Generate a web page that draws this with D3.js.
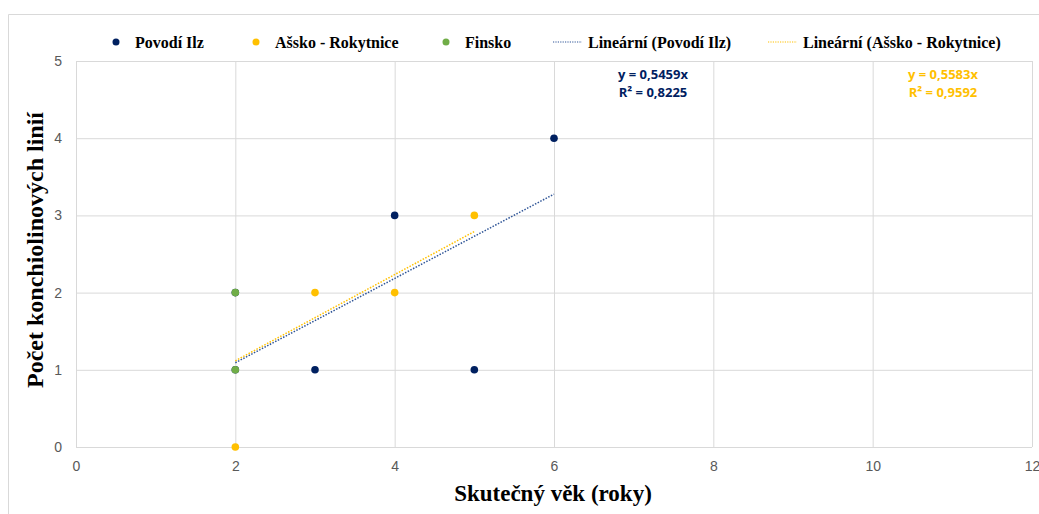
<!DOCTYPE html>
<html>
<head>
<meta charset="UTF-8">
<style>
  body { margin: 0; background: #fff; }
  .tick text { font: 14px "Liberation Sans Narrow", "Liberation Sans", sans-serif; fill: #595959; }
  .legend text { font: bold 16px "Liberation Serif", serif; fill: #000; }
  .title { font: bold 23px "Liberation Serif", serif; fill: #000; }
  .eq { font: bold 13px "Open Sans", "Liberation Sans", sans-serif; }
</style>
</head>
<body>
<svg id="chart" width="1039" height="514"></svg>
<script src="https://d3js.org/d3.v7.min.js"></script>
<script>
// series data
var ilzX = [2, 2, 3, 4, 5, 6];
var ilzY = [1, 2, 1, 3, 1, 4];
var askoX = [2, 3, 4, 5];
var askoY = [0, 2, 2, 3];
var finX = [2, 2];
var finY = [1, 2];

var seriesNames = ["Povodí Ilz", "Ašsko - Rokytnice", "Finsko"];
var seriesColors = ["#002060", "#FFC000", "#70AD47"];
var trendNames = ["Lineární (Povodí Ilz)", "Lineární (Ašsko - Rokytnice)"];
var trendSlopes = [0.5459, 0.5583];
var trendR2 = ["0,8225", "0,9592"];

var xTicks = [0, 2, 4, 6, 8, 10, 12];
var yTicks = [0, 1, 2, 3, 4, 5];

var svg = d3.select("#chart");
var margin = { left: 76, right: 7, top: 61, bottom: 67 };
var W = 1039, H = 514;

// outer chart frame (only left/top visible in the crop)
svg.append("path")
  .attr("d", "M8.5,514 V14.5 H1039")
  .attr("fill", "none").attr("stroke", "#d9d9d9");

var x = d3.scaleLinear().domain([0, 12]).range([margin.left, W - margin.right]);
var y = d3.scaleLinear().domain([0, 5]).range([H - margin.bottom, margin.top]);

// gridlines
svg.append("g").selectAll("line").data(xTicks).enter().append("line")
  .attr("x1", d => x(d) + 0.5).attr("x2", d => x(d) + 0.5)
  .attr("y1", y(0)).attr("y2", y(5))
  .attr("stroke", "#d9d9d9").attr("stroke-width", 1);
svg.append("g").selectAll("line").data(yTicks).enter().append("line")
  .attr("x1", x(0)).attr("x2", x(12))
  .attr("y1", d => y(d) + 0.5).attr("y2", d => y(d) + 0.5)
  .attr("stroke", "#d9d9d9").attr("stroke-width", 1);

// axes (labels only)
var xAxis = svg.append("g").attr("transform", "translate(0," + y(0) + ")")
  .call(d3.axisBottom(x).tickValues(xTicks).tickFormat(d3.format("d")).tickSize(0).tickPadding(14));
var yAxis = svg.append("g").attr("transform", "translate(" + x(0) + ",0)")
  .call(d3.axisLeft(y).tickValues(yTicks).tickFormat(d3.format("d")).tickSize(0).tickPadding(14));
xAxis.select(".domain").remove();
yAxis.select(".domain").remove();

// trendlines
var trendX = [d3.extent(ilzX), d3.extent(askoX)];
trendSlopes.forEach(function (m, i) {
  svg.append("line")
    .attr("x1", x(trendX[i][0])).attr("y1", y(m * trendX[i][0]))
    .attr("x2", x(trendX[i][1])).attr("y2", y(m * trendX[i][1]))
    .attr("stroke", i == 0 ? "#2f5597" : "#FFC000")
    .attr("stroke-width", 1.5)
    .attr("stroke-dasharray", "1.5,1.5");
});

// points
var series = [[ilzX, ilzY], [askoX, askoY], [finX, finY]];
series.forEach(function (s, i) {
  svg.append("g").selectAll("circle").data(s[0]).enter().append("circle")
    .attr("cx", d => x(d))
    .attr("cy", (d, j) => y(s[1][j]))
    .attr("r", 3.8)
    .attr("fill", seriesColors[i]);
});

// equations
var eqPos = [[653, 79], [943, 79]];
trendSlopes.forEach(function (m, i) {
  var t = svg.append("text").attr("class", "eq")
    .attr("text-anchor", "middle")
    .attr("fill", i == 0 ? "#002060" : "#FFC000");
  t.append("tspan").attr("x", eqPos[i][0]).attr("y", eqPos[i][1])
    .text("y = " + String(m).replace(".", ",") + "x");
  t.append("tspan").attr("x", eqPos[i][0]).attr("y", eqPos[i][1] + 18)
    .text("R² = " + trendR2[i]);
});

// legend
var legend = svg.append("g").attr("class", "legend");
var legX = [116, 256, 446];
seriesNames.forEach(function (n, i) {
  legend.append("circle").attr("cx", legX[i]).attr("cy", 42).attr("r", 3.5)
    .attr("fill", seriesColors[i]);
  legend.append("text").attr("x", legX[i] + 19).attr("y", 48).text(n);
});
var lineLegX = [553, 768];
trendNames.forEach(function (n, i) {
  legend.append("line")
    .attr("x1", lineLegX[i]).attr("x2", lineLegX[i] + 29)
    .attr("y1", 42).attr("y2", 42)
    .attr("stroke", i == 0 ? "#2f5597" : "#FFC000")
    .attr("stroke-width", 1.2).attr("stroke-dasharray", "1.2,1.2");
  legend.append("text").attr("x", lineLegX[i] + 35).attr("y", 48).text(n);
});

// axis titles
svg.append("text").attr("class", "title")
  .attr("x", 553).attr("y", 501).attr("text-anchor", "middle")
  .text("Skutečný věk (roky)");
svg.append("text").attr("class", "title")
  .attr("transform", "translate(43,250) rotate(-90)")
  .attr("text-anchor", "middle")
  .style("font-size", "24px")
  .text("Počet konchiolinových linií");
</script>
</body>
</html>
